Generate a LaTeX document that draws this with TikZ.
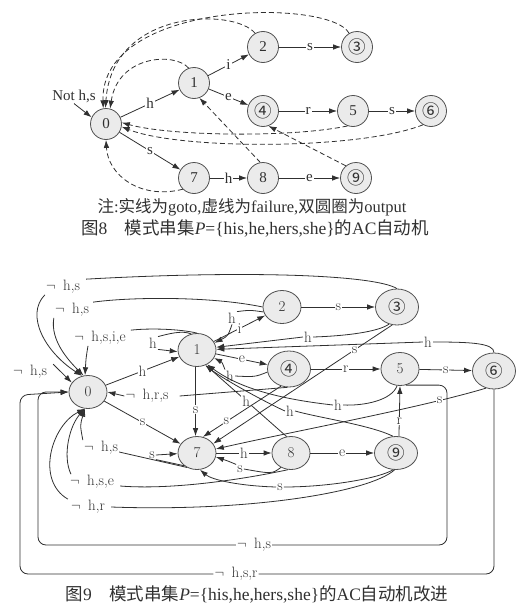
\documentclass[tikz,border=0pt]{standalone}
\usepackage{fontspec}
\usepackage{xcolor}
\usepackage{tikz}
\usetikzlibrary{positioning,arrows.meta,shapes.geometric}
\newfontfamily\cjk{Noto Sans CJK SC}
\newfontfamily\tms{Liberation Serif}
\definecolor{nfill}{HTML}{EBEBEB}
\definecolor{nline}{HTML}{505050}
\definecolor{ink}{HTML}{303030}
\newcommand{\cd}[1]{{\cjk\fontsize{17.5}{20}\selectfont #1}}
\newcommand{\nt}{$\neg$\enspace}
\newcommand{\lbf}{\fontsize{15}{18}\selectfont}
\newcommand{\capa}{\fontsize{16.5}{19}\selectfont}
\newcommand{\capb}{\fontsize{17.5}{20}\selectfont}

\begin{document}
\begin{tikzpicture}[x=1pt, y=-1pt, text=ink, font=\lbf,
  sa/.style={circle, draw=nline, fill=nfill, line width=0.8pt, minimum size=31pt, inner sep=0pt, font=\tms\lbf},
  sb/.style={ellipse, draw=nline, fill=nfill, line width=0.8pt, minimum width=38pt, minimum height=33pt, inner sep=0pt},
  sbo/.style={sb, minimum width=43pt, minimum height=36pt},
  go/.style={-{Latex[length=8pt,width=5.5pt]}, line width=0.8pt, draw=ink},
  fl/.style={go, dash pattern=on 5pt off 3pt},
  la/.style={fill=white, inner sep=1pt, font=\tms\lbf},
  lb/.style={fill=white, inner sep=1pt},
]
\useasboundingbox (0,0) rectangle (525,613);

% ---------------- Fig. 8: goto and failure ----------------
\node[sa] (a0) at (106,124) {0};
\node[sa] (a1) at (194,83) {1};
\node[sa] (a2) at (263,47) {2};
\node[sa] (a3) at (357,47) {\cd{③}};
\node[sa] (a4) at (263,111) {\cd{④}};
\node[sa] (a5) at (353,111) {5};
\node[sa] (a6) at (431,111) {\cd{⑥}};
\node[sa] (a7) at (194,178) {7};
\node[sa] (a8) at (263,178) {8};
\node[sa] (a9) at (356,178) {\cd{⑨}};
\node[la, fill=none] (nh) at (74,96) {Not h,s};
\draw[go] (a0) -- node[la]{h} (a1);
\draw[go] (a1) -- node[la]{i} (a2);
\draw[go] (a2) -- node[la]{s} (a3);
\draw[go] (a1) -- node[la]{e} (a4);
\draw[go] (a4) -- node[la]{r} (a5);
\draw[go] (a5) -- node[la]{s} (a6);
\draw[go] (a0) -- node[la]{s} (a7);
\draw[go] (a7) -- node[la]{h} (a8);
\draw[go] (a8) -- node[la]{e} (a9);
\draw[go] (nh.south) -- (a0.155);
% failure links
\draw[fl] (a3.120) .. controls (330,-2) and (100,0) .. (a0.100);
\draw[fl] (a2.120) .. controls (235,8) and (112,8) .. (a0.92);
\draw[fl] (a1.110) .. controls (175,52) and (118,55) .. (a0.75);
\draw[fl] (a5.-110) .. controls (290,138) and (170,136) .. (a0.5);
\draw[fl] (a6.-120) .. controls (360,150) and (180,150) .. (a0.-10);
\draw[fl] (a7.-135) .. controls (140,200) and (108,175) .. (a0.south);
\draw[fl] (a8.100) -- (a1.-70);
\draw[fl] (a9.130) -- (a4.-70);
\node[font=\capa] (cn8) at (252,207) {{\cjk 注}{\tms :}{\cjk 实线为}{\tms goto,}{\cjk 虚线为}{\tms failure,}{\cjk 双圆圈为}{\tms output}};
\node[font=\capb] (cp8) at (255,228) {{\cjk 图}{\tms 8}\quad{\cjk 模式串集}{\tms\itshape P}{\tms =\{his,he,hers,she\}}{\cjk 的}{\tms AC}{\cjk 自动机}};

% ---------------- Fig. 9: improved automaton ----------------
\node[sb] (b0) at (88,392) {0};
\node[sb] (b1) at (197,350) {1};
\node[sb] (b2) at (282,307) {2};
\node[sbo] (b3) at (397,307) {\cd{③}};
\node[sbo] (b4) at (289,369) {\cd{④}};
\node[sb] (b5) at (400,369) {5};
\node[sbo] (b6) at (494,371) {\cd{⑥}};
\node[sb] (b7) at (197,453) {7};
\node[sb] (b8) at (291,453) {8};
\node[sbo, minimum height=33pt] (b9) at (396,453) {\cd{⑨}};
% labels the edges run through
\node[lb] (z3) at (63,287) {\nt h,s};
\node[lb] (z2) at (72,310) {\nt h,s};
\node[lb] (z1) at (100,338) {\nt h,s,i,e};
\node[lb] (z0) at (30,372) {\nt h,s};
\node[lb] (z4) at (147,396) {\nt h,r,s};
\node[lb] (z5) at (254,545) {\nt h,s};
\node[lb] (z6) at (236,574) {\nt h,s,r};
\node[lb] (z7) at (101,448) {\nt h,s};
\node[lb] (z8) at (92,482) {\nt h,s,e};
\node[lb] (z9) at (88,507) {\nt h,r};
\node[lb] (h1) at (153,343) {h};
\node[lb] (h2) at (232,318) {h};
\node[lb] (h3) at (308,337) {h};
\node[lb] (h4) at (230,376) {h};
\node[lb] (h5) at (338,405) {h};
\node[lb] (h6) at (428,342) {h};
\node[lb] (h9) at (290,411) {h};
\node[lb] (s7) at (152,455) {s};
\node[lb] (s8) at (240,469) {s};
\node[lb] (s9) at (280,487) {s};
% goto
\draw[go] (b0) -- node[lb]{h} (b1);
\draw[go] (b1) -- node[lb]{i} (b2);
\draw[go] (b2) -- node[lb]{s} (b3);
\draw[go] (b1) -- node[lb]{e} (b4);
\draw[go] (b4) -- node[lb]{r} (b5);
\draw[go] (b5) -- node[lb]{s} (b6);
\draw[go] (b0) -- node[lb]{s} (b7);
\draw[go] (b7) -- node[lb]{h} (b8);
\draw[go] (b8) -- node[lb]{e} (b9);
% back to 0
\draw[go] (b3.north) .. controls (375,275) and (250,270) .. ([xshift=5pt]z3.north east)
  (z3.south west) .. controls (25,315) and (45,352) .. (b0.110);
\draw[go] (b2.west) .. controls (210,296) and (130,297) .. ([xshift=3pt]z2.north east)
  (z2.south west) .. controls (50,340) and (68,360) .. (b0.105);
\draw[go] (b1.north) .. controls (180,329) and (150,328) .. ([xshift=4pt]z1.north east)
  ([xshift=-12pt]z1.south) .. controls (86,358) .. (b0.100);
\draw[go] ([xshift=5pt]z0.north east) -- (b0.150);
\draw[go] (b4.-95) -- ([xshift=10pt]z4.east) (z4.west) -- (b0.east);
\draw[go, rounded corners=8pt] (b5.-70) -| (447,545) -- (z5.east) (z5.west) -| (38,392) -- (b0.west);
\draw[go, rounded corners=8pt] (b6.south) |- (z6.east) (z6.west) -| (20,395) -- (b0.west);
\draw[go] (b7.235) -- ([yshift=-4pt]z7.east) (z7.north west) .. controls (80,425) .. (b0.-100);
\draw[go] (b8.-100) .. controls (240,480) and (170,490) .. ([xshift=5pt,yshift=-4pt]z8.east)
  ([xshift=2pt]z8.north west) .. controls (62,455) and (70,425) .. (b0.-100);
\draw[go] (b9.-95) .. controls (370,492) and (250,512) .. ([xshift=5pt]z9.east)
  ([xshift=-2pt]z9.north west) .. controls (35,480) and (52,425) .. (b0.-100);
% into 1
\draw[go] (b1.110) .. controls (182,330) and (168,334) .. (h1.north east) (h1.south east) -- (b1.185);
\draw[go] (b2.195) .. controls (250,310) .. (h2.north east) (h2.south) .. controls (228,336) .. (b1.22);
\draw[go] (b3.-115) .. controls (378,332) and (345,336) .. (h3.east) (h3.west) -- (b1.8);
\draw[go] (b6.north) .. controls (494,343) and (470,342) .. (h6.east) (h6.west) -- (b1.2);
\draw[go] (b4.188) .. controls (255,377) .. (h4.east) (h4.north west) .. controls (222,362) .. (b1.-25);
\draw[go] (b5.-100) .. controls (392,400) and (365,406) .. (h5.east)
  (h5.west) .. controls (270,398) and (235,385) .. (b1.-55);
\draw[go] (b8.105) -- node[lb]{h} (b1.-60);
\draw[go] (b9.100) .. controls (370,425) and (320,418) .. (h9.east)
  (h9.west) .. controls (265,402) and (225,380) .. (b1.-62);
% into 7
\draw[go] (b1.-95) -- node[lb, pos=0.62]{s} (b7.95);
\draw[go] (b4.-115) -- node[lb, pos=0.7]{s} (b7.70);
\draw[go] (b3.-105) -- node[lb, pos=0.21]{s} (b7.30);
\draw[go] (b6.-115) .. controls (420,408) and (290,432) .. (b7.12) node[lb, pos=0.2]{s};
\draw[go] (b7.225) -- (s7.south east) (s7.east) -- (b7.182);
\draw[go] (b8.235) .. controls (272,474) .. (s8.east) (s8.north west) .. controls (228,461) .. (b7.-12);
\draw[go] (b9.-100) .. controls (380,478) and (330,487) .. (s9.east)
  (s9.west) .. controls (240,486) and (212,480) .. (b7.-80);
% into 5
\draw[go] (b9.80) -- node[lb, pos=0.3]{r} (b5.-90);
\node[font=\capb] (cp9) at (257,594) {{\cjk 图}{\tms 9}\quad{\cjk 模式串集}{\tms\itshape P}{\tms =\{his,he,hers,she\}}{\cjk 的}{\tms AC}{\cjk 自动机改进}};
\end{tikzpicture}
\end{document}
